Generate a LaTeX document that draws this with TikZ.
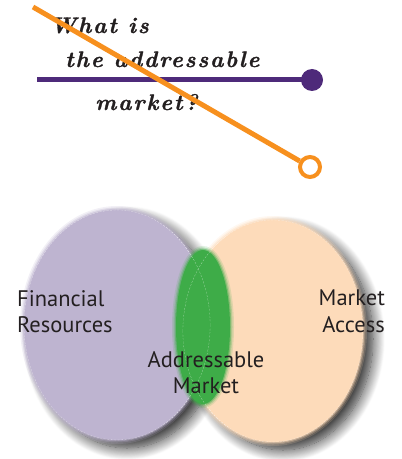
\documentclass[tikz,border=0pt]{standalone}
\usepackage{fontspec}
\newfontfamily\etiqueta{PT Sans}
\newfontfamily\titular[LetterSpace=8, FakeBold=1.2]{lmroman10-bolditalic.otf}
\usepackage{xcolor}
\definecolor{lila}{RGB}{190, 180, 208}
\definecolor{durazno}{RGB}{253, 219, 186}
\definecolor{verde}{RGB}{62, 172, 72}
\definecolor{morado}{RGB}{78, 42, 122}
\definecolor{naranja}{RGB}{247, 144, 30}
\definecolor{tinta}{RGB}{35, 31, 32}
\usepackage{tikz}
\usetikzlibrary{positioning, shapes.geometric, shadows.blur}

\begin{document}
\begin{tikzpicture}[x=0.5mm, y=-0.5mm,
  pregunta/.style={anchor=base west, inner sep=0pt, text=tinta, font=\titular\fontsize{32}{36}\selectfont},
  rotulo/.style={inner sep=0pt, text=tinta, font=\etiqueta\fontsize{32}{38}\selectfont},
  trazo/.style={line width=2.5mm, draw=#1},
  punto/.style={circle, fill=morado, minimum size=11mm, inner sep=0pt},
  aro/.style={circle, draw=naranja, line width=2mm, fill=white, minimum size=10mm, inner sep=0pt},
  conjunto/.style={ellipse, inner sep=0pt, fill=#1,
    blur shadow={shadow xshift=5mm, shadow yshift=-4mm, shadow blur radius=6mm, shadow opacity=85, shadow blur steps=16},
    preaction={draw=#1, line width=4mm, draw opacity=0.2},
    preaction={draw=#1, line width=2.5mm, draw opacity=0.3},
    preaction={draw=#1, line width=1.2mm, draw opacity=0.5},
    postaction={draw=white, densely dashed, very thin, draw opacity=0.7}},
  nucleo/.style={ellipse, inner sep=0pt, fill=verde,
    preaction={draw=verde, line width=4mm, draw opacity=0.15},
    preaction={draw=verde, line width=2.5mm, draw opacity=0.25},
    preaction={draw=verde, line width=1.2mm, draw opacity=0.45}}
]
  \useasboundingbox (0,0) rectangle (401,459);

  % question
  \node[pregunta] (q1) at (50,33) {What is};
  \node[pregunta] (q2) at (65,67) {the addressable};
  \node[pregunta] (q3) at (95,110) {market?};

  \coordinate (mstart) at (37,80);
  \node[punto] (mdot) at (312,80) {};
  \draw[trazo=morado] (mstart) -- (mdot.center);

  \coordinate (nstart) at (33,7);
  \node[aro] (ndot) at (310,167) {};
  \draw[trazo=naranja] (nstart) -- (ndot);

  % venn
  \node[conjunto=lila, minimum width=93mm, minimum height=115mm] (finres) at (117,325) {};
  \node[conjunto=durazno, minimum width=90mm, minimum height=111mm] (mktacc) at (273,331) {};
  \node[nucleo, minimum width=27mm, minimum height=77mm] (addr) at (203,327) {};
  \draw[white, densely dashed, very thin, opacity=0.7] (finres.east) arc[start angle=0, end angle=60, x radius=93mm/2, y radius=115mm/2];
  \draw[white, densely dashed, very thin, opacity=0.7] (finres.east) arc[start angle=0, end angle=-60, x radius=93mm/2, y radius=115mm/2];
  \draw[white, densely dashed, very thin, opacity=0.7] (mktacc.west) arc[start angle=180, end angle=120, x radius=90mm/2, y radius=111mm/2];
  \draw[white, densely dashed, very thin, opacity=0.7] (mktacc.west) arc[start angle=180, end angle=240, x radius=90mm/2, y radius=111mm/2];

  \node[rotulo, align=left, anchor=north west] (lfin) at (17,290) {Financial\\Resources};
  \node[rotulo, align=right, anchor=north east] (lmkt) at (385,290) {Market\\Access};
  \node[rotulo, align=center, anchor=north] (ladr) at (206,351) {Addressable\\Market};
\end{tikzpicture}
\end{document}
